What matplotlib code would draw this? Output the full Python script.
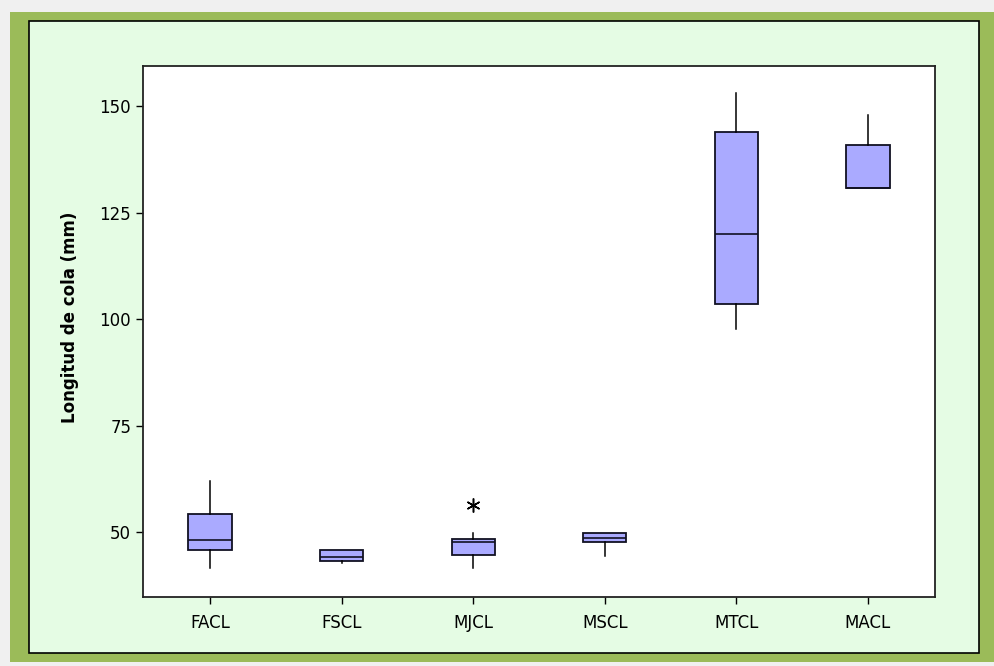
import matplotlib.pyplot as plt
from matplotlib.patches import Rectangle

# box summaries
groups = ['FACL', 'FSCL', 'MJCL', 'MSCL', 'MTCL', 'MACL']
whislo = [41.5, 42.7, 41.5, 44.5, 97.7, 130.7]
q1 = [45.8, 43.3, 44.6, 47.7, 103.6, 130.7]
med = [48.2, 44.2, 47.8, 48.6, 119.9, 130.7]
q3 = [54.2, 45.8, 48.5, 49.8, 144.0, 140.9]
whishi = [62.0, 45.8, 49.8, 49.8, 153.0, 147.9]
fliers = [[], [], [56.4], [], [], []]
yticks = [50, 75, 100, 125, 150]

plt.rcParams['font.family'] = 'DejaVu Sans'

W, H = 994, 666
fig = plt.figure(figsize=(W / 100, H / 100), dpi=100)
fig.patch.set_facecolor('#f0f0f0')

# green frame and light green panel
fig.patches.append(Rectangle((10 / W, 4 / H), (W - 10) / W, (H - 16) / H,
                             transform=fig.transFigure, facecolor='#9bbb59',
                             edgecolor='none', zorder=-2))
fig.patches.append(Rectangle((29 / W, 13 / H), 950 / W, 632 / H,
                             transform=fig.transFigure, facecolor='#e5fce4',
                             edgecolor='black', linewidth=1.2, zorder=-1))

ax = fig.add_axes([143 / W, 1 - 597 / H, (935 - 143) / W, (597 - 66) / H])
ax.set_zorder(2)
ax.set_facecolor('white')

stats = []
for i, g in enumerate(groups):
    stats.append(dict(label=g, whislo=whislo[i], q1=q1[i], med=med[i],
                      q3=q3[i], whishi=whishi[i], fliers=fliers[i]))

ax.bxp(stats, positions=range(1, 7), widths=0.33, patch_artist=True,
       showcaps=False,
       boxprops=dict(facecolor='#aaaaff', edgecolor='#111122', linewidth=1.3),
       medianprops=dict(color='#111122', linewidth=1.2),
       whiskerprops=dict(color='black', linewidth=1.1),
       flierprops=dict(marker=(6, 2, 0), markersize=10, markeredgecolor='black',
                       markeredgewidth=1.1, linestyle='none'))

ax.set_xlim(0.49, 6.51)
ax.set_ylim(34.8, 159.4)
ax.set_yticks(yticks)
ax.tick_params(axis='both', direction='out', length=5, width=1, labelsize=12,
               top=False, right=False)
ax.tick_params(axis='x', pad=7)
for s in ax.spines.values():
    s.set_linewidth(1.3)
    s.set_color('#222222')

fig.text(70 / W, 1 - 317 / H, 'Longitud de cola (mm)', rotation=90,
         ha='center', va='center', fontsize=12, fontweight='bold', zorder=3)

fig.savefig('out.png', dpi=100, facecolor=fig.get_facecolor())
